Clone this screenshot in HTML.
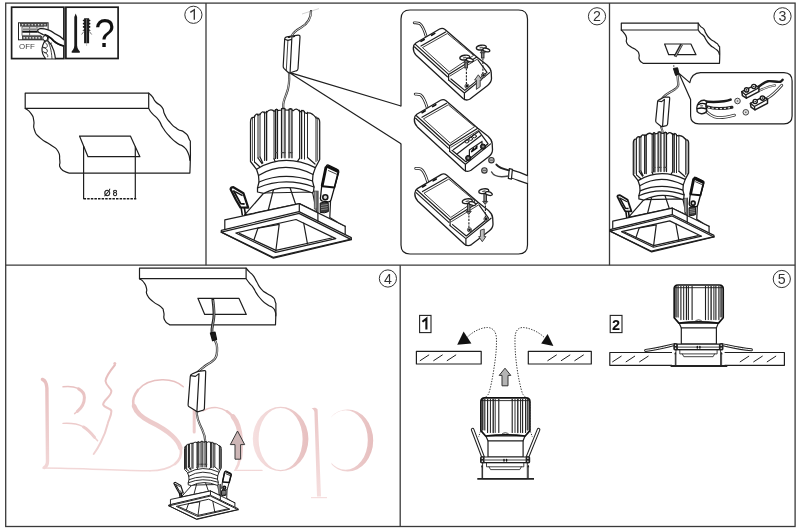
<!DOCTYPE html>
<html>
<head>
<meta charset="utf-8">
<title>Installation</title>
<style>
html,body{margin:0;padding:0;background:#fff;}
body{width:800px;height:530px;overflow:hidden;font-family:"Liberation Sans",sans-serif;}
svg{display:block;position:absolute;left:0;top:0;will-change:transform;}
text{font-family:"Liberation Sans",sans-serif;}
.l{fill:none;stroke:#1e1e1e;stroke-width:1.2;stroke-linejoin:round;stroke-linecap:round;}
.lw{fill:#fff;stroke:#1e1e1e;stroke-width:1.2;stroke-linejoin:round;stroke-linecap:round;}
.t{fill:none;stroke:#222;stroke-width:.85;stroke-linejoin:round;stroke-linecap:round;}
.k{fill:none;stroke:#111;stroke-width:1.6;stroke-linejoin:round;stroke-linecap:round;}
.f{fill:#1a1a1a;stroke:none;}
.l,.lw,.t,.k{vector-effect:non-scaling-stroke;}
.sm .l,.sm .lw,.sm .t{stroke-width:.95px !important;}
.sm .k{stroke-width:1.5px !important;}
.md .t{stroke-width:.8px !important;}
.wm{font-family:"Liberation Serif",serif;}
</style>
</head>
<body>
<svg width="800" height="530" viewBox="0 0 800 530">
<defs>
<linearGradient id="wg" gradientUnits="userSpaceOnUse" x1="0" y1="365" x2="0" y2="495">
<stop offset="0" stop-color="#e6bcbc"/><stop offset="1" stop-color="#f5dede"/>
</linearGradient>
<linearGradient id="wg2" gradientUnits="userSpaceOnUse" x1="252" y1="0" x2="309" y2="0"><stop offset="0" stop-color="#f6e0e0"/><stop offset="1" stop-color="#e7c0c0"/></linearGradient>
<linearGradient id="wg3" gradientUnits="userSpaceOnUse" x1="330" y1="0" x2="374" y2="0"><stop offset="0" stop-color="#f4dcdc"/><stop offset="1" stop-color="#e6bebe"/></linearGradient>
<linearGradient id="ag" x1="0" y1="0" x2="1" y2="0">
<stop offset="0" stop-color="#9a9a9a"/><stop offset="1" stop-color="#d8d8d8"/>
</linearGradient>
<g id="lamp">
<path class="lw" d="M263.8,193 L244.4,215.2 L299.3,203.6 L316.6,212 L312.5,192 Z"/>
<path class="l" d="M274,187.5 L268.3,210 M289.8,187 L295.6,204.3"/>
<path class="lw" d="M224.8,219.8 L299.3,203.6 L345.2,226.2 L345.2,236 L299.2,213 L224.8,230 Z"/>
<path class="l" d="M299.3,203.6 V212"/>
<path class="lw" d="M221.3,230.4 L299,211.6 L351.3,237.6 L351.3,239.6 L273.4,258.2 L221.3,232.2 Z"/>
<path class="l" d="M221.3,232.2 L299,213.4 L351.3,239.6"/>
<path class="l" style="stroke-width:1.3" d="M221.3,232.2 L273.2,257.4 L351.3,239.2"/>
<path class="lw" d="M235.8,233 L296,219.5 L335.8,238.6 L275.7,252.4 Z"/>
<path class="l" d="M239.3,233.4 L275.9,250.4 L331.6,238 "/>
<path class="l" d="M254,239.8 L257.9,228.2 M275.8,251 L279.2,224.4 M307.5,244 L303.7,223.2 M257.9,228.2 L279.2,224.4"/>
<path d="M230.6,189.2 Q230.8,187.2 233.4,187.2 L243.4,193.2 L248.2,207.6 L240.4,207.4 L236,200 Z" fill="#fff" stroke="#151515" stroke-width="2.2" stroke-linejoin="round"/>
<path d="M233.4,190.4 L240.6,203.6 L244.6,204" stroke="#151515" stroke-width="1.9" fill="none" stroke-linejoin="round"/>
<path d="M235,191.6 L242.6,195.6" stroke="#151515" stroke-width="1.5" fill="none"/>
<path class="k" style="stroke-width:1.6" d="M241.2,208 L242.3,215 M244.4,208 L245.4,214.3"/>
<path class="lw" d="M317.9,191 V221 M330.6,200 L329.8,217.6 L338.4,222.7 L345.2,226.2"/>
<rect x="314.2" y="191" width="2.6" height="18" fill="#9a9a9a" stroke="#333" stroke-width=".6"/>
<path class="lw" style="stroke-width:1.3;stroke:#111" d="M328.4,165.2 Q326.8,164.4 326.2,166.4 L321.6,187 L320.4,198.6 Q320.6,200.8 322.6,201.2 L328.6,201.8 Q330.6,201.6 331.1,199.6 L334.6,186.8 L338.8,172 Q339,170.2 337.2,169.4 Z"/>
<path class="k" style="stroke-width:3;stroke:#111" d="M327.9,166.7 L337.4,171.1"/>
<path class="k" style="stroke-width:2.8;stroke:#111" d="M325.9,167.6 L322.2,185.6"/>
<path class="k" style="stroke-width:1.7;stroke:#111" d="M338.1,172.6 L334.7,186.6"/>
<path class="k" style="stroke-width:1.9;stroke:#111" d="M322.4,186.3 L334.4,187.5"/>
<path class="t" d="M328.4,170.6 L336.6,174.2"/>
<circle cx="325.3" cy="197.3" r="2.5" fill="#d8d8d8" stroke="#151515" stroke-width="1.6" style="vector-effect:non-scaling-stroke"/>
<path d="M320.2,203 Q324,201.6 328.2,202.6 L328.4,211.6 Q324.4,213.6 320.2,212.4 Z" fill="#3a3a3a" stroke="#151515" stroke-width="1" style="vector-effect:non-scaling-stroke"/>
<path d="M321,205.4 L327.8,204.4 M321,207.6 L327.8,206.6 M321,209.8 L327.8,208.8" stroke="#aaa" stroke-width=".7" fill="none" style="vector-effect:non-scaling-stroke"/>
<path class="lw" style="stroke-width:1.25" d="M250.5,161.5 V122.1 Q250.6,117.1 253.6,117.4 L254.5,116.9 Q256.2,112.5 258.0,115.1 L260.0,114.5 Q262.2,110.2 264.5,113.0 L266.5,112.5 Q270.2,108.1 274.0,111.2 L275.5,111.0 Q276.5,107.3 277.5,110.6 L281.5,110.0 Q283.2,106.4 285.0,109.8 L289.0,110.1 Q290.5,106.8 292.0,110.4 L293.4,110.6 Q296.4,107.4 299.5,111.3 L301.5,111.8 Q303.0,108.6 304.5,112.5 L306.5,113.3 Q311.2,111.6 316.0,117.8 L317.0,118.2 Q319.6,118.0 319.7,122.1 V159.5 L315.4,167.6 L313,174.5 L312.5,181 L314,187 L313.6,191 L312.5,193 Q286,182 263.8,193.4 L257.5,192 L257.5,188 L259,182 L258.5,175.5 L256.5,169.3 Z"/>
<path class="l" style="fill:#c8c8c8" d="M275.5,158.4 V109.6 H277.5 V158.4"/>
<path class="k" style="stroke-width:1.2;stroke:#444" d="M275.5,152.6 H277.5"/>
<path class="l" style="fill:#c8c8c8" d="M281.5,157.8 V108.6 H285.0 V157.8"/>
<path class="k" style="stroke-width:1.2;stroke:#444" d="M281.5,152.6 H285.0"/>
<path class="l" style="fill:#c8c8c8" d="M289.0,157.8 V109.1 H292.0 V157.8"/>
<path class="k" style="stroke-width:1.2;stroke:#444" d="M289.0,152.6 H292.0"/>
<path class="l" style="stroke-width:0.7" d="M252.5,118.4 V160.5"/>
<path class="l" style="stroke-width:0.95" d="M254.5,115.8 V162.0"/>
<path class="l" style="stroke-width:0.95" d="M258.0,113.9 V158.0"/>
<path class="l" style="stroke-width:0.95" d="M260.0,113.5 V157.0"/>
<path class="l" style="stroke-width:0.95" d="M264.5,111.9 V160.5"/>
<path class="l" style="stroke-width:1.5" d="M266.5,111.6 V160.3"/>
<path class="l" style="stroke-width:0.95" d="M274.0,110.2 V158.8"/>
<path class="l" style="stroke-width:0.95" d="M299.5,110.1 V158.3"/>
<path class="l" style="stroke-width:1.5" d="M301.5,110.4 V158.6"/>
<path class="l" style="stroke-width:0.95" d="M304.5,111.3 V159.2"/>
<path class="l" style="stroke-width:0.95" d="M307.5,112.2 V157.5"/>
<path class="l" style="stroke-width:0.95" d="M316.0,116.7 V161.5"/>
<path class="l" style="stroke-width:0.7" d="M317.6,118.0 V160.5"/>
<path class="l" d="M254.5,162 L259.5,166.5 M258,158 L262,163.6 M260,157 L262.8,163 M307.5,157.5 L315,164 M299.5,158.3 L297.6,161.2 M274,158.8 L275,161.2"/>
<path class="l" style="stroke-width:1.25" d="M256.5,169.2 Q284.1,152.6 315.2,167.6"/>
<path class="l" style="stroke-width:1.25" d="M258.5,175.5 Q284.2,160.0 313.0,174.5"/>
<path class="l" style="stroke-width:1.25" d="M259.0,182.0 Q284.2,171.5 312.5,181.0"/>
<path class="l" style="stroke-width:1.25" d="M257.5,188.0 Q284.2,176.5 314.0,187.0"/>
</g>
<g id="driver">
<path d="M426.2,36.4 C424.6,31 423,25.6 419.4,23.4 C417.6,22.6 415.8,22.8 414.2,22.8" fill="none" stroke="#222" stroke-width="2.8" stroke-linecap="round"/>
<path d="M426.2,36.4 C424.6,31 423,25.6 419.4,23.4 C417.6,22.6 415.8,22.8 414.2,22.8" fill="none" stroke="#fff" stroke-width="1.1" stroke-linecap="round"/>
<path class="lw" style="stroke-width:1.3" d="M415.8,43 L439.6,29 Q442.4,27.4 445,29.4 L476.8,57 L487,65 Q491,68.6 491.2,72.4 L491.5,78.6 Q491.4,82.4 487.6,85.4 L470,99 Q466.4,101.2 463,98.6 L416.4,55.6 Q413.2,52.4 413.3,48 Q413.4,44.6 415.8,43 Z"/>
<path class="l" d="M415.4,44.4 L448.6,74.4 L476.8,57 M448.6,74.4 V80"/>
<path class="l" d="M414.6,47 L447.4,76.8"/>
<path class="t" d="M450,76 L477.6,59"/>
<path class="t" d="M422.8,47.4 L447.3,33.5 L473.6,55.4 L449.6,71.6 Z"/>
<path class="l" d="M421,46 L445.6,32"/>
<path class="k" style="stroke-width:1.6" d="M421,41.4 L424.2,39.5 M431.6,35.3 L434.8,33.4"/>
<path class="l" d="M448.6,80 L464.4,93 L489.6,72.6 M464.4,93 V99.6 M451,79 L464.8,90.4 L487,72.4 L478,60"/>
</g>
<g id="slamp">
<path class="lw" style="stroke-width:.9" d="M483,462.6 H527.3 V478.7 H483 Z"/>
<path class="t" d="M486.5,462.6 V466.8 H523.8 V462.6 M489,466.8 L490.5,469.6 H519.8 L521.3,466.8"/>
<path d="M477.3,478.9 H534" stroke="#222" stroke-width="1.8" fill="none"/>
<path class="t" d="M482,466 V478 M528.3,466 V478"/>
<path d="M482,464.6 l-1,2.6 h2 z M528.3,464.6 l-1,2.6 h2 z" fill="#222"/>
<path class="lw" d="M485.8,436 L488,440.8 V457 H523.1 V440.8 L525,436 Z"/>
<path class="l" d="M488,440.8 H523.1"/>
<path class="lw" d="M481.5,457 H529 V462.6 H481.5 Z"/>
<path class="t" d="M485,460 H525.5"/>
<path class="k" style="stroke-width:1.4" d="M504,459.4 v1.6 M506.6,459.4 v1.6"/>
<rect x="480" y="456.2" width="4.6" height="7" rx="1.5" fill="#222"/><rect x="525.6" y="456.2" width="4.6" height="7" rx="1.5" fill="#222"/>
<circle cx="482.3" cy="458.2" r=".7" fill="#fff"/><circle cx="482.3" cy="461.2" r=".7" fill="#fff"/><circle cx="527.9" cy="458.2" r=".7" fill="#fff"/><circle cx="527.9" cy="461.2" r=".7" fill="#fff"/>
<path class="lw" style="stroke-width:1.7;stroke:#111" d="M480.9,430.6 V401.5 Q481,398 484.7,397.9 H526 Q529.8,398 529.9,401.5 V430.6 L525.2,436 Q505.3,433.6 485.6,436 Z"/>
<path class="l" style="stroke-width:1.3" d="M482.7,399.3 V430.0"/>
<path class="l" style="stroke-width:1.1" d="M484.8,399.3 V430.0"/>
<path class="l" style="stroke-width:1.1" d="M487.6,399.3 V432.5"/>
<path class="l" style="stroke-width:1" d="M490.4,399.3 V432.5"/>
<path class="l" style="stroke-width:1.3" d="M493.2,399.3 V432.5"/>
<path class="l" style="stroke-width:0.9" d="M495.2,399.3 V432.5"/>
<path class="l" style="stroke-width:1.1" d="M498.8,399.3 V432.5"/>
<path class="l" style="stroke-width:1.1" d="M512.2,399.3 V432.5"/>
<path class="l" style="stroke-width:0.9" d="M515.0,399.3 V432.5"/>
<path class="l" style="stroke-width:1.3" d="M517.8,399.3 V432.5"/>
<path class="l" style="stroke-width:1" d="M520.6,399.3 V432.5"/>
<path class="l" style="stroke-width:1.1" d="M522.6,399.3 V432.5"/>
<path class="l" style="stroke-width:1.1" d="M525.6,399.3 V432.5"/>
<path class="l" style="stroke-width:1.3" d="M527.8,399.3 V430.0"/>
<path d="M481.3,401 h3.5 V430 h-3.5z M526,401 h3.5 V430 h-3.5z" fill="#555" opacity=".3"/>
<path class="t" d="M501.3,434.6 Q505.3,430.6 509.3,434.6"/>
<path class="l" style="stroke-width:.9" d="M481,400.6 H529.7"/>
</g>
</defs>
<rect x="0" y="0" width="800" height="530" fill="#fff"/>

<!-- WATERMARK -->
<g fill="none" stroke="url(#wg)" stroke-linecap="round" stroke-linejoin="round">
<path stroke-width="3.4" d="M42.4,379.4 C45,380.4 46.6,383 46.9,388 L47.5,461 C47.5,464.6 46.4,466.4 44.4,467.4"/>
<path stroke-width="1.6" d="M43,468 C80,468 120,470.8 150,470.8"/>
<path stroke-width="1.4" d="M63,386.8 C68,386.2 74,386.6 78,388.4"/><path stroke-width="3" d="M78.6,388.8 C82.4,390.8 84.4,393.4 84.4,397.4 C84.4,403 81.4,408 77.4,411.4"/><path stroke-width="1.5" d="M77.4,411.4 L74.6,413.6"/>
<path stroke-width="1.4" d="M63,423.4 C70,423 78,424 83,426.6"/><path stroke-width="3" d="M83.6,427 C88,429.6 91.4,433.4 94.6,437.4"/><path stroke-width="1.5" d="M94.6,437.4 L97.6,440.8"/>
<path stroke-width="2" d="M114.9,365 C110,371 106,376 105.5,381 C106,386 111,388 111.4,391 C111,397 103.5,400 103.1,404.5 C104,408 111,408 111.4,411 C111.5,416 108.5,420 107.8,423.4 C106,431 103,438 100.8,442.3 C98.5,447 96,451 93.7,454"/>
<circle cx="114.8" cy="363.6" r="1.5" fill="#e9c2c2" stroke="none"/>
<path stroke-width="1.5" d="M183.3,386.8 C178,382 170,379.6 162,379.8 C152,380 143,384 138,390"/>
<path stroke-width="2.6" d="M138,390 C134,395 132.4,400 133.4,405"/>
<path stroke-width="4.6" d="M134,406 C136,412 142,417.6 150,421.6 C158,425.4 166,430 172,435.6 C176.4,439.6 179.4,444 180.4,448"/>
<path stroke-width="2.6" d="M180.8,449 C181.8,455 179.4,460.4 175,464"/>
<path stroke-width="1.6" d="M175,464 C168,469 159,470.8 150,470.8"/>
<path stroke-width="3" d="M194.2,396 V432"/>
<path stroke-width="1.4" d="M203,411 C207,408.4 212,407.2 217,407.6 C221,408 224,409.4 227,411.4"/><path stroke-width="2.6" d="M227,411.4 C229,412.6 230.4,414 232,415.6"/>
<path stroke-width="4.8" d="M233,416.6 C237.6,422 240,430 240.6,440 C240.8,447 240.6,453 239.8,458"/>
<path stroke-width="2.6" d="M239.6,459 C239,463 238,466 236.4,468.4"/>
<path stroke-width="1.4" d="M236.4,468.4 L234.6,470.4 H262"/>
</g>
<path fill="url(#wg2)" fill-rule="evenodd" d="M252.8,439 a27.8,32.3 0 1,0 55.6,0 a27.8,32.3 0 1,0 -55.6,0 Z M258.6,439 a22,31.1 0 1,0 44,0 a22,31.1 0 1,0 -44,0 Z"/>
<path fill="url(#wg)" d="M311.6,408.4 C314,407.4 316.4,407.6 317.6,409.4 L321,496.6 H317 L314.4,412 C314.2,410 313,408.8 311.6,408.4 Z"/>
<path stroke="url(#wg)" stroke-width="1.2" fill="none" d="M311,497.6 H327"/>
<clipPath id="pc"><path d="M331.5,400 H380 V480 H331.5 Z"/></clipPath>
<path clip-path="url(#pc)" fill="url(#wg3)" fill-rule="evenodd" d="M322,440.5 a25.6,31 0 1,0 51.2,0 a25.6,31 0 1,0 -51.2,0 Z M323.4,440 a22.2,29.8 0 1,0 44.4,0 a22.2,29.8 0 1,0 -44.4,0 Z"/>

<!-- FRAME -->
<g fill="none" stroke="#3a3a3a" stroke-width="1.3">
<rect x="5.7" y="3.1" width="789.4" height="523.4"/>
<line x1="5.7" y1="265.2" x2="795.1" y2="265.2"/>
<line x1="206" y1="3.1" x2="206" y2="265.2"/>
<line x1="609.5" y1="3.1" x2="609.5" y2="265.2"/>
<line x1="400.2" y1="265.2" x2="400.2" y2="526.5"/>
</g>

<!-- STEP NUMBERS -->
<g fill="none" stroke="#333" stroke-width="1">
<circle cx="193.4" cy="14.8" r="8.6"/>
<circle cx="597" cy="16.3" r="8.6"/>
<circle cx="782.5" cy="16.3" r="8.6"/>
<circle cx="387.9" cy="278.5" r="8.6"/>
<circle cx="781.8" cy="279" r="8.6"/>
</g>
<g font-size="14.2" fill="#333" text-anchor="middle">
<path d="M190.3,12.4 L194.3,9.7 V19.7" fill="none" stroke="#333" stroke-width="1.35"/>
<text x="597" y="21.4">2</text>
<text x="782.5" y="21.4">3</text>
<text x="387.9" y="283.6">4</text>
<text x="781.8" y="284.1">5</text>
</g>

<!-- PANEL 1 -->
<g id="p1">
<rect x="11.6" y="7.2" width="52.3" height="51.4" fill="none" stroke="#1c1c1c" stroke-width="1.7"/>
<rect x="65.9" y="7.2" width="52.2" height="51.3" fill="none" stroke="#1c1c1c" stroke-width="1.7"/>
<!-- breaker -->
<rect x="18.5" y="22.8" width="29.6" height="17" fill="#fff" stroke="#222" stroke-width="1"/>
<rect x="20.6" y="23.3" width="26.4" height="2.8" fill="#555" stroke="#222" stroke-width=".6"/>
<rect x="22.3" y="36.2" width="19.6" height="3.2" fill="#555" stroke="#222" stroke-width=".6"/>
<g fill="#eee"><circle cx="22.6" cy="24.7" r=".75"/><circle cx="25.8" cy="24.7" r=".75"/><circle cx="29" cy="24.7" r=".75"/><circle cx="32.2" cy="24.7" r=".75"/><circle cx="35.4" cy="24.7" r=".75"/><circle cx="38.6" cy="24.7" r=".75"/><circle cx="41.8" cy="24.7" r=".75"/><circle cx="45" cy="24.7" r=".75"/>
<circle cx="24.2" cy="37.8" r=".85"/><circle cx="27.2" cy="37.8" r=".85"/><circle cx="30.2" cy="37.8" r=".85"/><circle cx="33.2" cy="37.8" r=".85"/><circle cx="36.2" cy="37.8" r=".85"/><circle cx="39.2" cy="37.8" r=".85"/></g>
<path d="M22,26.8V35.6M22,26.8H44M29.6,27V35.4M37,27V30.4M22,35.4H41" stroke="#333" stroke-width=".7" fill="none"/>
<path d="M22.6,29.2H36.6" stroke="#888" stroke-width="1.8" fill="none"/>
<path d="M22.3,31.7H37.8" stroke="#111" stroke-width="2" fill="none"/>
<text x="19" y="48.7" font-size="7.9" fill="#444">OFF</text>
<!-- hand -->
<path class="lw" stroke-width="1" d="M63.9,39.8 C61,37 58,35 55.3,33.9 C52,31.6 50,30.4 48.1,29.9 C45,28.8 42,28.4 40.2,28.7 C38.6,29 37.6,29.6 37.7,30.6 C37.7,31.6 38.2,32.2 39,32.6 C40.4,33.4 42,34 43.4,34.7 C45.4,35.6 47.4,36.2 48.9,37 C51,38.2 52.4,39.6 53.7,41 C55.4,42.6 56.8,43.4 58.4,44.2 C60,45 61.6,45.6 63.9,46.2"/>
<path d="M44.4,34.6 C46,35.4 47.6,36 48.9,36.8 C51,38 52.4,39.4 53.7,40.8 C55.4,42.4 56.8,43.2 58.4,44 C60,44.8 61.6,45.4 63.9,46" fill="none" stroke="#111" stroke-width="1.8"/>
<path class="lw" stroke-width="1" d="M45.6,58.6 C43.4,56 41.8,52 42,48.6 C42.2,46 43.4,43.6 44.4,41.6 L47.6,40.4 C50,42.6 52.6,46.6 53.8,50.6 C54.6,53.6 55.2,56.4 55.4,58.6"/>
<circle cx="45.3" cy="38.2" r="2.5" class="lw" style="stroke-width:1"/>
<path class="t" d="M44.6,42.4c2,.8 3.2,2.4 2.6,4.2c-.8,1.6 -2.8,1.4 -4.2,.4M43.2,47.6c2.4,.2 4.4,1.8 4.2,3.8c-.5,1.8 -2.8,1.5 -4.4,.2M44.4,52.6c2.4,.4 3.8,2.2 3.4,4.2M47.8,41.6c2,2.8 3.6,8 4.2,17"/>
<path class="t" d="M49.8,43.6l1.8,-.5"/>
<!-- screw -->
<path class="f" d="M75.7,13.6 L77.1,17 L77.1,45.5 C77.3,48.5 78.5,50 79.8,51.2 L79.8,52.7 L71.7,52.7 L71.7,51.2 C73,50 74.2,48.5 74.3,45.5 L74.3,17 Z"/>
<!-- plug -->
<path class="f" transform="translate(86.6,0) scale(1.25,1) translate(-86.6,0)" d="M84.6,18.2h4v1.2l1,.5v1.2l-1,.5v1l1,.5v1.2l-1,.5v1l1,.5v1.2l-1,.5v1.2l1.4,1.6h-1.4v12.4h-4v-12.4h-1.4l1.4,-1.6v-1.2l-1,-.5v-1.2l1,-.5v-1l-1,-.5v-1.2l1,-.5v-1l-1,-.5v-1.2l1,-.5z"/>
<path d="M83.9,31.5l-2.3,3M89.4,31.5l2.3,3" stroke="#555" stroke-width=".8" fill="none"/>
<path d="M86.6,19v27" stroke="#999" stroke-width=".6" fill="none"/>
<text x="0" y="47.3" font-size="40.5" fill="#111" transform="translate(94.6,0) scale(.9,1)">?</text>
<!-- ceiling -->
<path class="lw" d="M25.2,93.1 H148.7 L148.7,93.1 C149.9,94.3 149.9,93.6 152.3,96.6 C154.7,99.6 152.5,98.4 155.8,102.0 C159.1,105.6 159.1,103.2 162.1,107.4 C165.1,111.6 162.1,109.5 164.8,114.6 C167.5,119.7 166.0,117.8 170.2,122.6 C174.4,127.4 172.5,125.6 177.3,128.9 C182.1,132.2 180.6,129.2 184.5,132.5 C188.4,135.8 187.0,133.7 189.0,138.8 C191.0,143.9 190.1,136.3 190.4,147.7 C190.7,159.1 190.1,164.6 189.9,173.1 H68.8 L68.8,173.1 C66.1,171.5 63.7,172.6 60.7,168.3 C57.7,164.0 60.7,166.0 59.8,160.3 C58.9,154.6 61.0,156.4 58.0,151.3 C55.0,146.2 56.8,149.5 50.8,145.0 C44.8,140.5 45.6,143.0 40.1,137.9 C34.6,132.8 36.5,135.5 34.4,129.8 C32.3,124.1 34.9,126.2 33.8,120.8 C32.7,115.4 34.0,117.9 31.1,113.7 C28.2,109.5 27.2,110.1 25.2,108.3 Z"/>
<path class="l" d="M25.2,108.3 H148.7 L148.7,108.3 C149.9,110.1 149.0,109.8 152.3,113.7 C155.6,117.6 154.9,115.1 158.5,119.9 C162.1,124.7 159.4,122.6 163.0,128.0 C166.6,133.4 164.5,130.9 169.3,136.0 C174.1,141.1 172.5,139.6 177.3,143.2 C182.1,146.8 180.0,143.5 183.6,146.8 C187.2,150.1 186.0,148.6 188.1,153.1 C190.2,157.6 189.3,157.9 189.9,160.3  M148.7,93.1 V108.3"/>

<path class="lw" d="M79.5,136.1 H130.4 L139.9,156.7 H88 Z"/>
<path class="l" d="M83.6,146 V198.6 M135.3,146.8 V198.6"/>
<path d="M83.6,198.7 H136.3" stroke="#1a1a1a" stroke-width="1.4" stroke-dasharray="2.5,1.1" fill="none"/>
<text x="110.8" y="195.7" font-size="8.3" fill="#111" stroke="#111" stroke-width=".3" text-anchor="middle">Ø 8</text>
</g>

<!-- PANEL 2 -->
<g id="p2">
<path d="M302,14 L319,8.6" stroke="#c8c8c8" stroke-width=".8" fill="none"/>
<path d="M311,11.2 C311,19 307,24 301,27.6 C296,30.4 293,32.6 291.6,36.4" fill="none" stroke="#333" stroke-width="2.3" stroke-linecap="round"/><path d="M311,11.2 C311,19 307,24 301,27.6 C296,30.4 293,32.6 291.6,36.4" fill="none" stroke="#fff" stroke-width=".8"/>
<path d="M289,73 C289.6,80 288.8,88 286.4,94 C284.4,99 283,102 283.2,106 L283.6,111" fill="none" stroke="#333" stroke-width="2.2" stroke-linecap="round"/><path d="M289,73 C289.6,80 288.8,88 286.4,94 C284.4,99 283,102 283.2,106 L283.6,111" fill="none" stroke="#fff" stroke-width=".7"/>
<path class="l" d="M289.2,72.4 L401,106 M289.2,72.4 L401,143.8"/>
<g transform="translate(0.3,1.8)">
<path class="lw" d="M286.5,35 L297.8,33.3 Q299.8,33.2 299.7,35.2 L297.7,67 Q297.5,68.6 296,69 L290,71 Q288.6,71.4 287.4,70.2 L283.6,66.6 Q282.8,65.6 282.9,64.2 L284.4,37.2 Q284.6,35.3 286.5,35 Z"/>
<path class="l" d="M291.6,35.2 L289.8,70.4 M284.4,37.4 L287.6,38.6 L291.4,37.6"/>
<path class="t" d="M287.6,38.6 L286,68.8"/>
<path class="k" style="stroke-width:1.2" d="M288.2,35.6 l1.6,-.3 M292.6,35 l1.6,-.3"/>
</g>
<path class="lw" d="M401,106 V19 Q401,10 410,10 H518.5 Q527.5,10 527.5,19 V245 Q527.5,254 518.5,254 H410 Q401,254 401,245 V143.8"/>
<use href="#driver"/>
<g transform="translate(0,0)">
<path d="M466.4,68.4 V84.7" stroke="#222" stroke-width="1.1" stroke-dasharray="2.2,1.2" fill="none"/>
<rect x="464.9" y="59.4" width="2.6" height="8.6" fill="#8a8a8a" stroke="#222" stroke-width=".9"/>
<path d="M463.6,62.8 l2.6,-3 l2.6,3 z" fill="#777" stroke="#222" stroke-width=".7"/>
<ellipse cx="464.8" cy="57.4" rx="5" ry="2.3" class="lw" style="stroke-width:1.4" transform="rotate(-10 465.8 57.4)"/>
<ellipse cx="470.4" cy="58.8" rx="3.6" ry="1.7" class="lw" style="stroke-width:1.3" transform="rotate(16 465.8 57.4)"/>
<ellipse cx="464.8" cy="57.4" rx="2" ry=".8" fill="#666" transform="rotate(-10 465.8 57.4)"/>
<circle cx="467.0" cy="86.2" r="2.1" fill="#fff" stroke="#222" stroke-width=".8"/><circle cx="467.0" cy="86.2" r="1.4" fill="#1a1a1a"/>
<path d="M482.9,58.4 V73.9" stroke="#222" stroke-width="1.1" stroke-dasharray="2.2,1.2" fill="none"/>
<rect x="481.4" y="49.4" width="2.6" height="8.6" fill="#8a8a8a" stroke="#222" stroke-width=".9"/>
<path d="M480.1,52.8 l2.6,-3 l2.6,3 z" fill="#777" stroke="#222" stroke-width=".7"/>
<ellipse cx="481.3" cy="47.4" rx="5" ry="2.3" class="lw" style="stroke-width:1.4" transform="rotate(-10 482.3 47.4)"/>
<ellipse cx="486.9" cy="48.8" rx="3.6" ry="1.7" class="lw" style="stroke-width:1.3" transform="rotate(16 482.3 47.4)"/>
<ellipse cx="481.3" cy="47.4" rx="2" ry=".8" fill="#666" transform="rotate(-10 482.3 47.4)"/>
<circle cx="483.5" cy="75.4" r="2.1" fill="#fff" stroke="#222" stroke-width=".8"/><circle cx="483.5" cy="75.4" r="1.4" fill="#1a1a1a"/>
<path d="M478.3,74.8 L482,80 L480.2,80 L480.2,86.6 L476.4,89.4 L476.4,80 L474.6,80 Z" fill="#bdbdbd" stroke="#333" stroke-width=".9" stroke-linejoin="round"/>
</g>
<use href="#driver" transform="translate(1,71.3)"/>
<use href="#driver" transform="translate(1.5,145.6)"/>
<g transform="translate(2.5,143.6)">
<path d="M466.4,68.4 V84.7" stroke="#222" stroke-width="1.1" stroke-dasharray="2.2,1.2" fill="none"/>
<rect x="464.9" y="59.4" width="2.6" height="8.6" fill="#8a8a8a" stroke="#222" stroke-width=".9"/>
<path d="M463.6,67.8 l2.6,3 l2.6,-3 z" fill="#777" stroke="#222" stroke-width=".7"/>
<ellipse cx="464.8" cy="57.4" rx="5" ry="2.3" class="lw" style="stroke-width:1.4" transform="rotate(-10 465.8 57.4)"/>
<ellipse cx="470.4" cy="58.8" rx="3.6" ry="1.7" class="lw" style="stroke-width:1.3" transform="rotate(16 465.8 57.4)"/>
<ellipse cx="464.8" cy="57.4" rx="2" ry=".8" fill="#666" transform="rotate(-10 465.8 57.4)"/>
<circle cx="467.0" cy="86.2" r="2.1" fill="#fff" stroke="#222" stroke-width=".8"/><circle cx="467.0" cy="86.2" r="1.4" fill="#1a1a1a"/>
<path d="M482.9,58.4 V73.9" stroke="#222" stroke-width="1.1" stroke-dasharray="2.2,1.2" fill="none"/>
<rect x="481.4" y="49.4" width="2.6" height="8.6" fill="#8a8a8a" stroke="#222" stroke-width=".9"/>
<path d="M480.1,57.8 l2.6,3 l2.6,-3 z" fill="#777" stroke="#222" stroke-width=".7"/>
<ellipse cx="481.3" cy="47.4" rx="5" ry="2.3" class="lw" style="stroke-width:1.4" transform="rotate(-10 482.3 47.4)"/>
<ellipse cx="486.9" cy="48.8" rx="3.6" ry="1.7" class="lw" style="stroke-width:1.3" transform="rotate(16 482.3 47.4)"/>
<ellipse cx="481.3" cy="47.4" rx="2" ry=".8" fill="#666" transform="rotate(-10 482.3 47.4)"/>
<circle cx="483.5" cy="75.4" r="2.1" fill="#fff" stroke="#222" stroke-width=".8"/><circle cx="483.5" cy="75.4" r="1.4" fill="#1a1a1a"/>
<path d="M479.8,98.1 L483.4,93 L481.7,93 L481.7,85.4 L477.9,86.6 L477.9,93 L476.2,93 Z" fill="#bdbdbd" stroke="#333" stroke-width=".9" stroke-linejoin="round"/>
</g>
<g class="t" style="stroke-width:1"><ellipse cx="466.8" cy="141.4" rx="2" ry="1.6"/><ellipse cx="470.6" cy="138.8" rx="2" ry="1.6"/><ellipse cx="474.4" cy="136.2" rx="2" ry="1.6"/></g>
<path class="l" d="M453.6,149.6 L478.6,131.4 M457,154 L481,135.6 M469.4,150 V157 M482,141.4 V147 M469.4,150 L482,141.4"/>
<path class="k" style="stroke-width:1.5" d="M471.6,151.6 L473.6,148.4 M475,149.4 L477,146.2 M471.6,151.6 L477,148"/>
<circle cx="468.2" cy="158" r="2.6" fill="#333" stroke="#111" stroke-width="1"/><circle cx="483" cy="146.6" r="2.6" fill="#333" stroke="#111" stroke-width="1"/>
<circle cx="468.2" cy="158" r="1" fill="#999"/><circle cx="483" cy="146.6" r="1" fill="#999"/>
<circle cx="491.4" cy="160.2" r="2.7" fill="#bbb" stroke="#333" stroke-width="1.1"/><circle cx="484.4" cy="170.4" r="2.7" fill="#bbb" stroke="#333" stroke-width="1.1"/>
<path d="M489.8,160.2h3.2M482.8,170.4h3.2" stroke="#444" stroke-width=".8"/>
<path class="lw" d="M527.5,175.6 C521,172.5 516,171 511.5,169.8 L510.6,177.8 C516,179.5 521,181.5 527.5,183.6"/>
<path class="lw" style="stroke-width:1.2" d="M509.3,168.6 L512.4,169.4 L511.4,179.2 L508.3,178.4 Z"/>
<path d="M496.4,164.6 C499,168 503,169 509,170.4" fill="none" stroke="#222" stroke-width="1.9" stroke-linecap="round"/>
<path d="M491.6,172 C494,176.5 501,177.5 508.6,176" fill="none" stroke="#444" stroke-width="1.5" stroke-linecap="round"/>
</g>
<use href="#lamp"/>

<!-- PANEL 3 -->
<g id="p3">
<path class="lw" d="M621.3,23.2 H698.2 L698.2,23.2 C699.0,24.2 698.6,24.3 700.5,26.3 C702.4,28.3 702.0,26.7 703.9,29.2 C705.8,31.7 704.0,30.5 706.1,33.7 C708.2,36.9 707.1,36.0 710.1,38.8 C713.1,41.6 712.4,39.9 715.2,42.2 C718.0,44.5 717.1,43.0 718.6,45.6 C720.1,48.2 719.4,44.2 719.7,50.1 C720.0,56.0 719.6,58.9 719.5,63.3 H643.1 L643.1,63.3 C641.9,62.1 640.8,62.8 639.4,59.7 C638.0,56.6 640.0,57.3 639.0,54.1 C638.0,50.9 639.1,52.6 636.3,50.1 C633.5,47.6 633.9,49.2 630.7,46.7 C627.5,44.2 628.1,45.7 626.7,42.7 C625.3,39.7 627.2,40.7 626.5,37.7 C625.8,34.7 626.2,36.3 624.5,33.7 C622.8,31.1 622.4,31.2 621.3,30.0 Z"/>
<path class="l" d="M621.3,30 H698.2 L698.2,30.0 C699.0,31.0 698.6,31.1 700.5,33.1 C702.4,35.1 702.0,33.7 703.9,36.0 C705.8,38.3 704.0,36.9 706.1,39.9 C708.2,42.9 707.3,42.2 710.1,45.0 C712.9,47.8 712.0,46.3 714.6,48.4 C717.2,50.5 716.4,49.1 718.0,51.2 C719.6,53.3 718.9,53.5 719.4,54.6  M698.2,23.2 V30"/>
<path class="lw" d="M664.6,44 H690.9 L696,54.7 H668.7 Z"/>
<path d="M681.6,44.4 L675,56.6" stroke="#222" stroke-width="3" fill="none"/><path d="M681.8,44.8 L675.4,56.4" stroke="#ddd" stroke-width=".7" fill="none"/>
<circle cx="673.8" cy="66" r=".7" fill="#222"/>
<path d="M677.4,74.5 L678.3,84.5 C678.4,88 674,90 670.8,91.8 C667.5,93.6 664.6,95.4 662.6,98" fill="none" stroke="#333" stroke-width="2.3" stroke-linecap="round" stroke-linejoin="round"/><path d="M677.4,74.5 L678.3,84.5 C678.4,88 674,90 670.8,91.8 C667.5,93.6 664.6,95.4 662.6,98" fill="none" stroke="#fff" stroke-width="0.8" stroke-linecap="round"/>
<path d="M673.4,68.4 L677.6,67.8 L679,74 L675.6,75.4 Z" fill="#1a1a1a" stroke="#111" stroke-width="1" stroke-linejoin="round"/>
<path d="M661,125.4 C660.4,128.5 663.5,129.5 662.6,133.5" fill="none" stroke="#333" stroke-width="2" stroke-linecap="round" stroke-linejoin="round"/><path d="M661,125.4 C660.4,128.5 663.5,129.5 662.6,133.5" fill="none" stroke="#fff" stroke-width="0.6" stroke-linecap="round"/>
<path class="lw" d="M659.4,99.6 L664,97.2 L669,97.2 Q669.8,97.3 669.7,98.4 L667.6,124 Q667.5,125.2 666.4,125.6 L662.4,126.6 Q661.4,126.8 660.6,126 L656.4,122.6 Q655.6,121.8 655.7,120.6 L657.6,101.6 Q657.8,100.2 659.4,99.6 Z"/>
<path class="l" d="M664.4,99.4 L662.6,126 M658,101 L661.6,101.6 L664.4,99.4"/>
<path class="lw" d="M679,73.4 L689.8,82.6 Q691.5,73 700.6,72.6 H784 Q792,72.8 792.1,81 V116 Q792,123.8 784,123.9 H699 Q690.8,123.8 690.6,116 V99.6 Z"/>
<path d="M704.6,109.6 C708,113.5 712,117 718,117.6 C724,118 729,116.6 734.4,115.2" fill="none" stroke="#333" stroke-width="2.9" stroke-linecap="round" stroke-linejoin="round"/><path d="M704.6,109.6 C708,113.5 712,117 718,117.6 C724,118 729,116.6 734.4,115.2" fill="none" stroke="#fff" stroke-width="1.2" stroke-linecap="round"/>
<path d="M703.4,101.2 C710,102.2 718,102 724,101.2 C727,100.8 729,100.2 730.6,99.6" fill="none" stroke="#1a1a1a" stroke-width="2.6" stroke-linecap="round"/>
<path d="M706.6,106.6 C713,108.6 722,109.4 732,107.2" fill="none" stroke="#222" stroke-width="3" stroke-linecap="round"/><path d="M708,107.2 C714,108.8 722,109.4 731,107.4" fill="none" stroke="#e0e0e0" stroke-width="1.1" stroke-dasharray="2.2,1.8"/>
<path class="lw" style="stroke-width:1.5" d="M697.2,111.6 C696,107 697.6,102.6 701,100.8 C703.4,99.8 706,100.2 706.6,102 C706.8,103.6 705.4,105 706,107 C706.8,109 707.4,110.6 705.8,112.4 C703.4,114.4 699,114 697.2,111.6 Z"/>
<path class="k" style="stroke-width:1.4" d="M698.4,104.6 C700.4,103.4 703.4,103.2 705.6,104 M697.6,108.6 C700.6,107.6 703,107.8 706,108.8"/>
<ellipse cx="701.6" cy="105.8" rx="1.6" ry="1" fill="#888"/>
<circle cx="737.5" cy="101" r="2.8" fill="#e0e0e0" stroke="#444" stroke-width="1"/><circle cx="745.8" cy="112.3" r="2.8" fill="#e0e0e0" stroke="#444" stroke-width="1"/><circle cx="737.5" cy="101" r=".8" fill="#555"/><circle cx="745.8" cy="112.3" r=".8" fill="#555"/>
<path d="M758.6,86.6 C762,84.6 764,82 768,81.2 C772,80.6 777,82.4 780.4,81.8 C781.6,81.4 782,80.6 782.6,79.8" fill="none" stroke="#1a1a1a" stroke-width="2.4" stroke-linecap="round"/>
<path d="M759.4,90.6 C764,88.4 770,86 775,85.4" fill="none" stroke="#444" stroke-width="2.2" stroke-linecap="round" stroke-linejoin="round"/><path d="M759.4,90.6 C764,88.4 770,86 775,85.4" fill="none" stroke="#fff" stroke-width="0.9" stroke-linecap="round"/>
<path d="M767.6,98 C772,95.6 777,90.6 781.8,85.2" fill="none" stroke="#333" stroke-width="2.8" stroke-linecap="round" stroke-linejoin="round"/><path d="M767.6,98 C772,95.6 777,90.6 781.8,85.2" fill="none" stroke="#fff" stroke-width="1.2" stroke-linecap="round"/>
<g transform="translate(0,0)">
<path class="lw" style="stroke-width:1.5" d="M741.8,91.7 L755,85.1 L758.9,87.7 L758.9,91.7 L746.4,98.2 L742.4,95.6 Z"/>
<path class="l" style="stroke-width:1.3" d="M741.8,91.7 L745.8,94.9 L758.9,87.7 M745.8,94.9 L746.4,98.2"/>
<circle cx="746.6" cy="89.9" r="2.1" fill="#fff" stroke="#1a1a1a" stroke-width="1.4"/><circle cx="753.8" cy="86.5" r="2.1" fill="#fff" stroke="#1a1a1a" stroke-width="1.4"/>
<circle cx="746.6" cy="89.9" r=".8" fill="#222"/><circle cx="753.8" cy="86.5" r=".8" fill="#222"/>
</g>
<g transform="translate(8.6,11.6)">
<path class="lw" style="stroke-width:1.5" d="M741.8,91.7 L755,85.1 L758.9,87.7 L758.9,91.7 L746.4,98.2 L742.4,95.6 Z"/>
<path class="l" style="stroke-width:1.3" d="M741.8,91.7 L745.8,94.9 L758.9,87.7 M745.8,94.9 L746.4,98.2"/>
<circle cx="746.6" cy="89.9" r="2.1" fill="#fff" stroke="#1a1a1a" stroke-width="1.4"/><circle cx="753.8" cy="86.5" r="2.1" fill="#fff" stroke="#1a1a1a" stroke-width="1.4"/>
<circle cx="746.6" cy="89.9" r=".8" fill="#222"/><circle cx="753.8" cy="86.5" r=".8" fill="#222"/>
</g>
<use href="#lamp" transform="translate(633.3,132.1) scale(0.80) translate(-250.5,-108.5)"/>
</g>

<!-- PANEL 4 -->
<g id="p4">
<path class="lw" d="M139.5,268.2 H246.1 L246.1,268.2 C247.2,269.4 247.0,269.3 249.4,271.9 C251.8,274.5 251.0,272.6 253.4,275.9 C255.8,279.2 254.1,277.4 256.7,281.8 C259.3,286.2 257.8,285.1 261.3,289.1 C264.8,293.1 263.5,291.1 267.3,293.7 C271.1,296.3 270.0,294.4 272.6,297.0 C275.2,299.6 274.1,297.9 275.2,301.6 C276.3,305.3 275.8,300.5 275.9,308.2 C276.0,315.9 275.6,319.3 275.5,324.8 H169.6 L169.6,324.8 C167.9,323.2 166.6,324.3 164.6,320.1 C162.6,315.9 164.9,316.6 163.7,312.2 C162.5,307.8 164.5,310.4 161.0,306.9 C157.5,303.4 157.7,305.6 153.1,301.6 C148.5,297.6 149.4,299.4 147.2,295.0 C145.0,290.6 147.6,292.6 146.5,288.4 C145.4,284.2 146.2,285.7 143.9,282.5 C141.6,279.3 141.0,280.0 139.5,278.7 Z"/>
<path class="l" d="M139.5,278.7 H246.1 L246.1,278.7 C247.2,280.2 247.0,280.1 249.4,283.1 C251.8,286.1 251.0,284.3 253.4,287.8 C255.8,291.3 253.8,289.5 256.7,293.7 C259.6,297.9 258.3,296.6 262.0,300.3 C265.7,304.0 264.4,302.5 267.9,304.9 C271.4,307.3 270.2,305.4 272.6,307.6 C275.0,309.8 274.1,308.7 275.2,311.5 C276.3,314.3 275.6,314.5 275.8,316.0  M246.1,268.2 V278.7"/>
<path class="lw" d="M197.9,298.3 H238.9 L246.3,314.4 H204.7 Z"/>
<path d="M212.8,299.4 C213.6,306 214.6,312 213.7,318.6 C213,324 211.4,328 212,332.6" fill="none" stroke="#222" stroke-width="2.8" stroke-linecap="round"/>
<path d="M213,300 C213.8,306 214.8,312 213.9,318.6 C213.2,324 211.6,328 212.2,332" fill="none" stroke="#ccc" stroke-width=".7"/>
<path d="M214.6,339.6 C215.6,342 217,344 217,347 C217.2,351 217.6,355 215,358.6 C212,362.6 206,364.6 203,367.6 C200.5,369.6 199,370.6 197.9,372" fill="none" stroke="#333" stroke-width="2.3" stroke-linecap="round" stroke-linejoin="round"/><path d="M214.6,339.6 C215.6,342 217,344 217,347 C217.2,351 217.6,355 215,358.6 C212,362.6 206,364.6 203,367.6 C200.5,369.6 199,370.6 197.9,372" fill="none" stroke="#fff" stroke-width="0.8" stroke-linecap="round"/>
<path d="M210.4,333 L215,332.2 L216.6,339.4 L212.6,340.8 Z" fill="#1a1a1a" stroke="#111" stroke-width="1.2" stroke-linejoin="round"/>
<path d="M196.8,410.6 C196,417 199.4,424 202.4,430 C204.4,434 205.2,438 205.4,442.6" fill="none" stroke="#333" stroke-width="2.1" stroke-linecap="round" stroke-linejoin="round"/><path d="M196.8,410.6 C196,417 199.4,424 202.4,430 C204.4,434 205.2,438 205.4,442.6" fill="none" stroke="#fff" stroke-width="0.7" stroke-linecap="round"/>
<path class="lw" d="M192,374 L198,371.4 L204.6,370.6 Q205.8,370.6 205.7,372 L204.4,408.6 Q204.3,409.8 203,410.2 L198.4,411.6 Q197,412 196,411 L188.8,406.6 Q188,406 188.1,404.6 L190.3,376.2 Q190.5,374.6 192,374 Z"/>
<path class="l" d="M199,373.6 L196.9,411.4 M190.6,375.6 L195.4,376.4 L199,373.6"/>
<g class="sm" transform="translate(184.5,441.3) scale(0.532,0.522) translate(-250.5,-108.5)"><path class="lw" d="M263.8,193 L244.4,215.2 L299.3,203.6 L316.6,212 L312.5,192 Z"/>
<path class="l" d="M274,187.5 L268.3,210 M289.8,187 L295.6,204.3"/>
<path class="lw" d="M224.8,219.8 L299.3,203.6 L345.2,226.2 L345.2,236 L299.2,213 L224.8,230 Z"/>
<path class="l" d="M299.3,203.6 V212"/>
<path class="lw" d="M221.3,230.4 L299,211.6 L351.3,237.6 L351.3,239.6 L273.4,258.2 L221.3,232.2 Z"/>
<path class="l" d="M221.3,232.2 L299,213.4 L351.3,239.6"/>
<path class="l" style="stroke-width:1.3" d="M221.3,232.2 L273.2,257.4 L351.3,239.2"/>
<path class="lw" d="M235.8,233 L296,219.5 L335.8,238.6 L275.7,252.4 Z"/>
<path class="l" d="M239.3,233.4 L275.9,250.4 L331.6,238 "/>
<path class="l" d="M254,239.8 L257.9,228.2 M275.8,251 L279.2,224.4 M307.5,244 L303.7,223.2 M257.9,228.2 L279.2,224.4"/>
<path d="M230.6,189.2 Q230.8,187.2 233.4,187.2 L243.4,193.2 L248.2,207.6 L240.4,207.4 L236,200 Z" fill="#fff" stroke="#151515" stroke-width="2.2" stroke-linejoin="round"/>
<path d="M233.4,190.4 L240.6,203.6 L244.6,204" stroke="#151515" stroke-width="1.9" fill="none" stroke-linejoin="round"/>
<path d="M235,191.6 L242.6,195.6" stroke="#151515" stroke-width="1.5" fill="none"/>
<path class="k" style="stroke-width:1.6" d="M241.2,208 L242.3,215 M244.4,208 L245.4,214.3"/>
<path class="lw" d="M317.9,191 V221 M330.6,200 L329.8,217.6 L338.4,222.7 L345.2,226.2"/>
<rect x="314.2" y="191" width="2.6" height="18" fill="#9a9a9a" stroke="#333" stroke-width=".6"/>
<path class="lw" style="stroke-width:1.3;stroke:#111" d="M328.4,165.2 Q326.8,164.4 326.2,166.4 L321.6,187 L320.4,198.6 Q320.6,200.8 322.6,201.2 L328.6,201.8 Q330.6,201.6 331.1,199.6 L334.6,186.8 L338.8,172 Q339,170.2 337.2,169.4 Z"/>
<path class="k" style="stroke-width:3;stroke:#111" d="M327.9,166.7 L337.4,171.1"/>
<path class="k" style="stroke-width:2.8;stroke:#111" d="M325.9,167.6 L322.2,185.6"/>
<path class="k" style="stroke-width:1.7;stroke:#111" d="M338.1,172.6 L334.7,186.6"/>
<path class="k" style="stroke-width:1.9;stroke:#111" d="M322.4,186.3 L334.4,187.5"/>
<path class="t" d="M328.4,170.6 L336.6,174.2"/>
<circle cx="325.3" cy="197.3" r="2.5" fill="#d8d8d8" stroke="#151515" stroke-width="1.6" style="vector-effect:non-scaling-stroke"/>
<path d="M320.2,203 Q324,201.6 328.2,202.6 L328.4,211.6 Q324.4,213.6 320.2,212.4 Z" fill="#3a3a3a" stroke="#151515" stroke-width="1" style="vector-effect:non-scaling-stroke"/>
<path d="M321,205.4 L327.8,204.4 M321,207.6 L327.8,206.6 M321,209.8 L327.8,208.8" stroke="#aaa" stroke-width=".7" fill="none" style="vector-effect:non-scaling-stroke"/>
<path class="lw" style="stroke-width:1.25" d="M250.5,161.5 V122.1 Q250.6,117.1 253.6,117.4 L254.5,116.9 Q256.2,112.5 258.0,115.1 L260.0,114.5 Q262.2,110.2 264.5,113.0 L266.5,112.5 Q270.2,108.1 274.0,111.2 L275.5,111.0 Q276.5,107.3 277.5,110.6 L281.5,110.0 Q283.2,106.4 285.0,109.8 L289.0,110.1 Q290.5,106.8 292.0,110.4 L293.4,110.6 Q296.4,107.4 299.5,111.3 L301.5,111.8 Q303.0,108.6 304.5,112.5 L306.5,113.3 Q311.2,111.6 316.0,117.8 L317.0,118.2 Q319.6,118.0 319.7,122.1 V159.5 L315.4,167.6 L313,174.5 L312.5,181 L314,187 L313.6,191 L312.5,193 Q286,182 263.8,193.4 L257.5,192 L257.5,188 L259,182 L258.5,175.5 L256.5,169.3 Z"/>
<path class="l" style="fill:#c8c8c8" d="M275.5,158.4 V109.6 H277.5 V158.4"/>
<path class="k" style="stroke-width:1.2;stroke:#444" d="M275.5,152.6 H277.5"/>
<path class="l" style="fill:#c8c8c8" d="M281.5,157.8 V108.6 H285.0 V157.8"/>
<path class="k" style="stroke-width:1.2;stroke:#444" d="M281.5,152.6 H285.0"/>
<path class="l" style="fill:#c8c8c8" d="M289.0,157.8 V109.1 H292.0 V157.8"/>
<path class="k" style="stroke-width:1.2;stroke:#444" d="M289.0,152.6 H292.0"/>
<path class="l" style="stroke-width:0.7" d="M252.5,118.4 V160.5"/>
<path class="l" style="stroke-width:0.95" d="M254.5,115.8 V162.0"/>
<path class="l" style="stroke-width:0.95" d="M258.0,113.9 V158.0"/>
<path class="l" style="stroke-width:0.95" d="M260.0,113.5 V157.0"/>
<path class="l" style="stroke-width:0.95" d="M264.5,111.9 V160.5"/>
<path class="l" style="stroke-width:1.5" d="M266.5,111.6 V160.3"/>
<path class="l" style="stroke-width:0.95" d="M274.0,110.2 V158.8"/>
<path class="l" style="stroke-width:0.95" d="M299.5,110.1 V158.3"/>
<path class="l" style="stroke-width:1.5" d="M301.5,110.4 V158.6"/>
<path class="l" style="stroke-width:0.95" d="M304.5,111.3 V159.2"/>
<path class="l" style="stroke-width:0.95" d="M307.5,112.2 V157.5"/>
<path class="l" style="stroke-width:0.95" d="M316.0,116.7 V161.5"/>
<path class="l" style="stroke-width:0.7" d="M317.6,118.0 V160.5"/>
<path class="l" d="M254.5,162 L259.5,166.5 M258,158 L262,163.6 M260,157 L262.8,163 M307.5,157.5 L315,164 M299.5,158.3 L297.6,161.2 M274,158.8 L275,161.2"/>
<path class="l" style="stroke-width:1.25" d="M256.5,169.2 Q284.1,152.6 315.2,167.6"/>
<path class="l" style="stroke-width:1.25" d="M258.5,175.5 Q284.2,160.0 313.0,174.5"/>
<path class="l" style="stroke-width:1.25" d="M259.0,182.0 Q284.2,171.5 312.5,181.0"/>
<path class="l" style="stroke-width:1.25" d="M257.5,188.0 Q284.2,176.5 314.0,187.0"/></g>
<path d="M237.5,431 L244.7,444.6 L240.6,444.6 L240.6,459.2 L235,459.2 L235,444.6 L230.3,444.6 Z" fill="#cdb6b6" stroke="#3a3a3a" stroke-width="1" stroke-linejoin="round"/>
</g>

<!-- PANEL 5 -->
<g id="p5">
<rect x="419.6" y="315.4" width="11.4" height="17.2" fill="#fff" stroke="#222" stroke-width="1.1"/>
<rect x="610.2" y="315.4" width="11.8" height="17.2" fill="#fff" stroke="#222" stroke-width="1.1"/>
<path d="M422.4,321.8 L426.4,318.6 V329.6" fill="none" stroke="#111" stroke-width="2.1" stroke-linejoin="miter"/>
<text x="616.1" y="329.6" font-size="14.5" font-weight="bold" fill="#111" text-anchor="middle">2</text>
<rect class="lw" x="416.4" y="351.3" width="64.8" height="12.7"/>
<rect class="lw" x="528.3" y="351.3" width="63" height="12.7"/>
<path class="l" style="stroke-width:1" d="M420.2,360.6 l8.6,-5.6 M433.7,360.6 l8.6,-5.6 M447.2,360.6 l8.6,-5.6 "/>
<path class="l" style="stroke-width:1" d="M547.8,360.6 l8.6,-5.6 M561.3,360.6 l8.6,-5.6 M574.8,360.6 l8.6,-5.6 "/>
<g fill="none" stroke="#333" stroke-width="1" stroke-dasharray="1.3,1.4">
<path d="M467.5,337 C473,331.5 481,327.6 487.5,327.5 C493,327.8 496,331.5 496.4,338 C496.8,348 495.6,358 494,368 C492.6,378 490.6,388 488.6,394 L481,402 V430 L478.6,437"/>
<path d="M543.8,337 C538,331.5 529,327.6 522.5,327.5 C517.5,327.8 515.2,331.5 515,338 C514.8,348 515.6,358 517,368 C518.4,378 520.6,388 522.6,394 L529.8,402 V430 L532.4,437"/>
</g>
<path d="M463.6,331.6 L457.2,344.8 L471.4,343.4 Z" fill="#111"/>
<path d="M547.6,334 L541.2,343.4 L553.4,346 Z" fill="#111"/>
<path d="M505,368.2 L510.8,375.4 L508,375.4 L508,385.8 L502,385.8 L502,375.4 L499.2,375.4 Z" fill="#b4b4b4" stroke="#333" stroke-width="1" stroke-linejoin="round"/>
<g transform="translate(0,0)">
<path d="M483.2,457.5 L472.6,429.6" stroke="#222" stroke-width="3.6" stroke-linecap="round" fill="none"/><path d="M483.2,457.5 L472.6,429.6" stroke="#fff" stroke-width="1.5" stroke-linecap="round" fill="none"/>
<path d="M527.3,457.5 L538.6,429.6" stroke="#222" stroke-width="3.6" stroke-linecap="round" fill="none"/><path d="M527.3,457.5 L538.6,429.6" stroke="#fff" stroke-width="1.5" stroke-linecap="round" fill="none"/>
</g>
<use href="#slamp"/>
<rect class="lw" x="609.8" y="352.5" width="174.6" height="12.8"/>
<path class="l" style="stroke-width:1" d="M612.6,361.8 l8.6,-5.6 M626.1,361.8 l8.6,-5.6 M639.6,361.8 l8.6,-5.6 "/>
<path class="l" style="stroke-width:1" d="M740.2,361.8 l8.6,-5.6 M753.7,361.8 l8.6,-5.6 M767.2,361.8 l8.6,-5.6 "/>
<path d="M674.6,344.6 C668,346 658,349 645.6,350.4" stroke="#222" stroke-width="3" stroke-linecap="round" fill="none"/><path d="M674.6,344.6 C668,346 658,349 645.6,350.4" stroke="#fff" stroke-width="1" stroke-linecap="round" fill="none"/>
<path d="M722,344.6 C729,346 739,348.6 751.4,349.8" stroke="#222" stroke-width="3" stroke-linecap="round" fill="none"/><path d="M722,344.6 C729,346 739,348.6 751.4,349.8" stroke="#fff" stroke-width="1" stroke-linecap="round" fill="none"/>
<rect x="672" y="350.5" width="52.6" height="16" fill="#fff"/>
<use href="#slamp" transform="translate(193.3,-112.9)"/>
</g>

</svg>
</body>
</html>
